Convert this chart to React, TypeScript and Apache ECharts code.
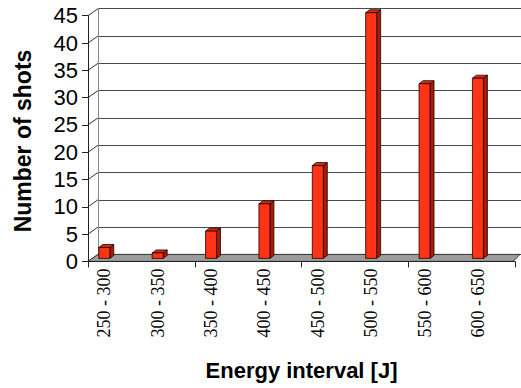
import React, { useEffect, useRef } from "react";
import * as echarts from "echarts";

const categories = [
  "250 - 300",
  "300 - 350",
  "350 - 400",
  "400 - 450",
  "450 - 500",
  "500 - 550",
  "550 - 600",
  "600 - 650",
];
const shots = [2, 1, 5, 10, 17, 45, 32, 33];
const yTicks = [0, 5, 10, 15, 20, 25, 30, 35, 40, 45];
const yMin = 0;
const yMax = 45;
const yStep = 5;
const xTitle = "Energy interval [J]";
const yTitle = "Number of shots";

export default function App() {
  const ref = useRef<HTMLDivElement>(null);

  useEffect(() => {
    const chart = echarts.init(ref.current!, null, { renderer: "svg" });
    const PLOT_W = 427;
    const PLOT_H = 245.7;
    const FRONT_LEFT = 88;
    const FRONT_TOP = 15.7;
    const DX = 10; // depth offset of back wall
    const DY = 7;
    const BAR_W = 11;
    const BDX = 4; // bar depth
    const BDY = 3;

    const titleFont = {
      fontFamily: "Liberation Sans",
      fontWeight: "bold" as const,
      fontSize: 22,
      color: "#000",
    };
    const catLabelStyle = {
      fontFamily: "Liberation Serif",
      fontSize: 18,
      color: "#000",
    };

    const option: any = {
      animation: false,
      backgroundColor: "#fff",
      grid: [
        { left: FRONT_LEFT, top: FRONT_TOP, width: PLOT_W, height: PLOT_H },
        { left: FRONT_LEFT - 10.4, top: FRONT_TOP - 3, width: PLOT_W, height: PLOT_H },
        { left: FRONT_LEFT + DX, top: FRONT_TOP - DY, width: PLOT_W, height: PLOT_H },
      ],
      graphic: [
        {
          type: "text",
          x: 23,
          y: 141,
          rotation: Math.PI / 2,
          style: {
            text: yTitle,
            fontFamily: "Liberation Sans",
            fontWeight: "bold",
            fontSize: 23,
            fill: "#000",
            textAlign: "center",
            textVerticalAlign: "middle",
          },
        },
      ],
      xAxis: [
        {
          gridIndex: 0,
          type: "category",
          data: categories,
          axisLine: { show: true, lineStyle: { color: "#222", width: 1 } },
          axisTick: { show: true, length: 6, lineStyle: { color: "#222" } },
          axisLabel: { show: false },
          splitLine: { show: false },
          name: xTitle,
          nameLocation: "middle",
          nameGap: 98,
          nameTextStyle: titleFont,
          z: 5,
        },
        {
          gridIndex: 1,
          type: "category",
          data: categories,
          axisLine: { show: false },
          axisTick: { show: false },
          splitLine: { show: false },
          axisLabel: {
            show: true,
            rotate: 90,
            margin: 10,
            interval: 0,
            ...catLabelStyle,
          },
        },
        {
          gridIndex: 2,
          type: "category",
          data: categories,
          show: false,
        },
      ],
      yAxis: [
        {
          gridIndex: 0,
          type: "value",
          min: yMin,
          max: yMax,
          interval: yStep,
          axisLine: { show: true, lineStyle: { color: "#222", width: 1 } },
          axisTick: { show: true, length: 6, lineStyle: { color: "#222" } },
          splitLine: { show: false },
          axisLabel: {
            fontFamily: "Liberation Sans",
            fontSize: 22,
            color: "#000",
            margin: 10,
          },
          z: 5,
        },
        {
          gridIndex: 1,
          type: "value",
          min: yMin,
          max: yMax,
          interval: yStep,
          show: false,
        },
        {
          gridIndex: 2,
          type: "value",
          min: yMin,
          max: yMax,
          interval: yStep,
          axisLine: { show: true, lineStyle: { color: "#8a8a8a", width: 1 } },
          axisTick: { show: false },
          axisLabel: { show: false },
          splitLine: { show: true, lineStyle: { color: "#4a4a4a", width: 1 } },
        },
      ],
      series: [
        {
          type: "custom",
          name: "floor",
          xAxisIndex: 0,
          yAxisIndex: 0,
          clip: false,
          silent: true,
          z: 2,
          data: [[0, 0]],
          renderItem: (params: any, api: any) => {
            const cs = params.coordSys;
            const y0 = api.coord([0, 0])[1];
            return {
              type: "polygon",
              shape: {
                points: [
                  [cs.x, y0],
                  [cs.x + cs.width - 2, y0],
                  [cs.x + cs.width + DX - 5, y0 - DY],
                  [cs.x + DX, y0 - DY],
                ],
              },
              style: { fill: "#9c9c9c", stroke: "#3a3a3a", lineWidth: 1 },
            };
          },
        },
        {
          type: "custom",
          name: "wall",
          xAxisIndex: 0,
          yAxisIndex: 0,
          clip: false,
          silent: true,
          z: 1,
          data: yTicks.map((v) => [0, v]),
          renderItem: (params: any, api: any) => {
            const cs = params.coordSys;
            const y = api.coord([0, api.value(1)])[1];
            return {
              type: "line",
              shape: { x1: cs.x, y1: y, x2: cs.x + DX, y2: y - DY },
              style: { stroke: "#333", lineWidth: 1 },
            };
          },
        },
        {
          type: "custom",
          name: "Number of shots",
          xAxisIndex: 1,
          yAxisIndex: 1,
          clip: false,
          z: 3,
          data: shots.map((v, i) => [i, v]),
          renderItem: (params: any, api: any) => {
            const top = api.coord([api.value(0), api.value(1)]);
            const base = api.coord([api.value(0), 0]);
            const x = top[0] - BAR_W / 2;
            const yT = top[1];
            const yB = base[1];
            const stroke = "#1a0500";
            return {
              type: "group",
              children: [
                {
                  type: "polygon",
                  shape: {
                    points: [
                      [x + BAR_W, yT],
                      [x + BAR_W + BDX, yT - BDY],
                      [x + BAR_W + BDX, yB - BDY],
                      [x + BAR_W, yB],
                    ],
                  },
                  style: { fill: "#a81c06", stroke, lineWidth: 0.8 },
                },
                {
                  type: "polygon",
                  shape: {
                    points: [
                      [x, yT],
                      [x + BAR_W, yT],
                      [x + BAR_W + BDX, yT - BDY],
                      [x + BDX, yT - BDY],
                    ],
                  },
                  style: { fill: "#dc2c10", stroke, lineWidth: 0.8 },
                },
                {
                  type: "rect",
                  shape: { x, y: yT, width: BAR_W, height: yB - yT },
                  style: { fill: "#ff3316", stroke, lineWidth: 0.8 },
                },
              ],
            };
          },
        },
      ],
    };

    chart.setOption(option);
    return () => chart.dispose();
  }, []);

  return (
    <div
      ref={ref}
      style={{ position: "absolute", left: 0, top: 0, width: 521, height: 388 }}
    />
  );
}
